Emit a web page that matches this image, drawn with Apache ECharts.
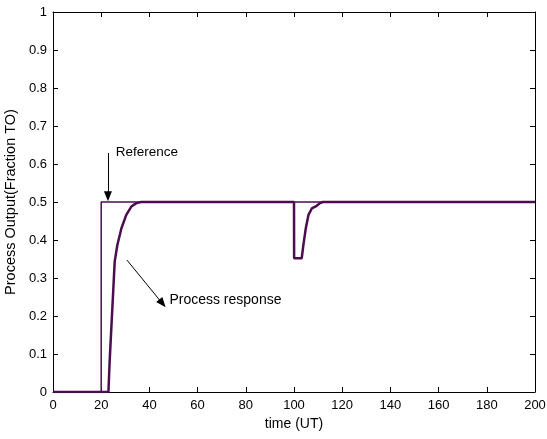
<!DOCTYPE html>
<html><head><meta charset="utf-8">
<script src="https://cdn.jsdelivr.net/npm/echarts@6/dist/echarts.min.js"></script>
<style>html,body{margin:0;padding:0;background:#fff}#c{width:547px;height:439px}</style>
</head><body><div id="c"></div>
<script>
// Reference signal
var refTime = [0, 20, 20, 200];
var refValue = [0, 0, 0.5, 0.5];
// Process response
var procTime = [0, 23, 23.5, 24.2, 24.9, 25.6, 26.7, 28.4, 30.4, 32.5, 34.6, 36.6, 40, 100, 100.05, 103.2, 103.9, 104.9, 106, 107.4, 109.4, 110.8, 112, 200];
var procValue = [0, 0, 0.08, 0.168, 0.255, 0.343, 0.387, 0.431, 0.466, 0.488, 0.497, 0.5, 0.5, 0.5, 0.352, 0.352, 0.387, 0.431, 0.466, 0.483, 0.49, 0.497, 0.5, 0.5];
// Annotations (data coords)
var annoRefText = "Reference";
var annoRefTextPos = [26, 0.632];
var annoRefArrow = [[22.8, 0.629], [22.8, 0.515]];
var annoProcText = "Process response";
var annoProcTextPos = [48.3, 0.242];
var annoProcArrow = [[30.7, 0.347], [45.4, 0.233]];

var FONT = 'Liberation Sans, Arial, sans-serif';
var LINE = '#4b0c50';
function zip(a, b) { return a.map(function (v, i) { return [v, b[i]]; }); }

var chart = echarts.init(document.getElementById('c'), null, {renderer: 'canvas'});
var axisCommon = {
  axisLine: {show: true, onZero: false, lineStyle: {color: '#000', width: 1}},
  axisTick: {show: true, inside: true, length: 5, lineStyle: {color: '#000'}},
  splitLine: {show: false}
};
var option = {
  animation: false,
  backgroundColor: '#fff',
  grid: {left: 53, right: 12, top: 12, bottom: 47, containLabel: false, outerBoundsMode: 'none'},
  xAxis: [
    Object.assign({type: 'value', min: 0, max: 200, interval: 20, position: 'bottom',
      name: 'time (UT)', nameLocation: 'middle', nameGap: 24,
      nameTextStyle: {fontFamily: FONT, fontSize: 14, color: '#000'},
      axisLabel: {fontFamily: FONT, fontSize: 13, color: '#000', margin: 7}}, axisCommon),
    Object.assign({type: 'value', min: 0, max: 200, interval: 20, position: 'top',
      axisLabel: {show: false}}, axisCommon)
  ],
  yAxis: [
    Object.assign({type: 'value', min: 0, max: 1, interval: 0.1, position: 'left',
      name: 'Process Output(Fraction TO)', nameLocation: 'middle', nameGap: 29,
      nameTextStyle: {fontFamily: FONT, fontSize: 14.5, color: '#000'},
      axisLabel: {fontFamily: FONT, fontSize: 13, color: '#000', margin: 6}}, axisCommon),
    Object.assign({type: 'value', min: 0, max: 1, interval: 0.1, position: 'right',
      axisLabel: {show: false}}, axisCommon)
  ],
  series: [
    {type: 'line', name: 'Process response', data: zip(procTime, procValue), showSymbol: false, symbol: 'none',
      lineStyle: {color: LINE, width: 2.5}, z: 2,
      markLine: {silent: true, symbol: ['none', 'triangle'], symbolSize: [8, 10], animation: false,
        lineStyle: {color: '#000', width: 1, type: 'solid'}, label: {show: false},
        data: [
          [{coord: annoRefArrow[0]}, {coord: annoRefArrow[1]}],
          [{coord: annoProcArrow[0]}, {coord: annoProcArrow[1]}]
        ]}},
    {type: 'line', name: 'Reference', data: zip(refTime, refValue), showSymbol: false, symbol: 'none',
      lineStyle: {color: LINE, width: 1.5}, z: 3}
  ]
};
chart.setOption(option);
function placeText() {
  var p1 = chart.convertToPixel({gridIndex: 0}, annoRefTextPos);
  var p2 = chart.convertToPixel({gridIndex: 0}, annoProcTextPos);
  chart.setOption({graphic: [
    {type: 'text', x: p1[0], y: p1[1], style: {text: annoRefText, fontFamily: FONT, fontSize: 13.5, fill: '#000', verticalAlign: 'middle', align: 'left'}},
    {type: 'text', x: p2[0], y: p2[1], style: {text: annoProcText, fontFamily: FONT, fontSize: 14, fill: '#000', verticalAlign: 'middle', align: 'left'}}
  ]});
}
placeText();
</script></body></html>
